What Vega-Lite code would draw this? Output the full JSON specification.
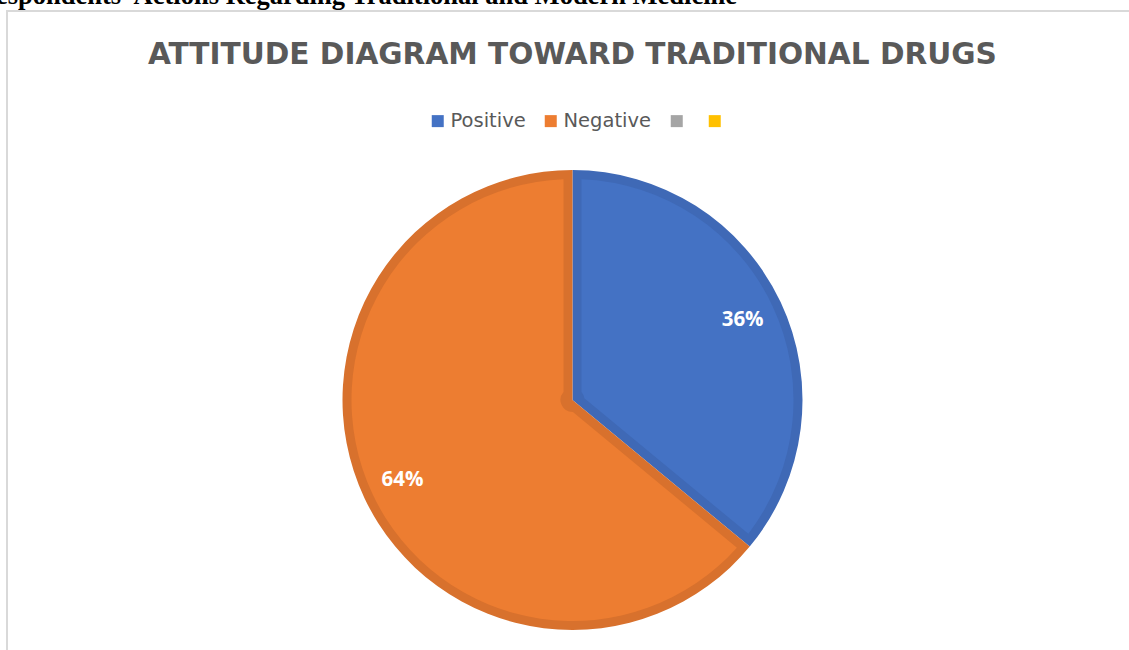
{
  "$schema": "https://vega.github.io/schema/vega-lite/v6.json",
  "autosize": {"type": "none"},
  "padding": {"left": 7, "top": 11, "right": 0, "bottom": 0},
  "width": 1124,
  "height": 641,
  "background": "white",
  "config": {
    "view": {"stroke": null},
    "font": "Open Sans"
  },
  "data": {
    "values": [
      {"category": "Positive", "value": 36, "ord": 1, "label": "36%"},
      {"category": "Negative", "value": 64, "ord": 2, "label": "64%"}
    ]
  },
  "layer": [
    {
      "data": {"values": [{"frame": "chart area"}]},
      "mark": {"type": "rect", "fill": null, "stroke": "#d9d9d9", "strokeWidth": 2},
      "encoding": {}
    },
    {
      "mark": {"type": "arc", "radius": 230, "xOffset": 3.5, "yOffset": 68.5},
      "encoding": {
        "theta": {"field": "value", "type": "quantitative", "stack": true},
        "order": {"field": "ord", "type": "quantitative"},
        "color": {
          "field": "category",
          "type": "nominal",
          "scale": {"domain": ["Positive", "Negative", "C3", "C4"], "range": ["#3F69B6", "#D8712D", "#979797", "#E8AF00"]},
          "legend": null
        }
      }
    },
    {
      "mark": {"type": "arc", "radius": 221, "radius2": 12, "padAngle": 0.0813, "xOffset": 3.5, "yOffset": 68.5},
      "encoding": {
        "theta": {"field": "value", "type": "quantitative", "stack": true},
        "order": {"field": "ord", "type": "quantitative"},
        "color": {
          "field": "category",
          "type": "nominal",
          "scale": {"domain": ["Positive", "Negative", "C3", "C4"], "range": ["#4472C4", "#ED7D31", "#A5A5A5", "#FFC000"]},
          "legend": {
            "title": null,
            "orient": "none",
            "direction": "horizontal",
            "legendX": 421,
            "legendY": 100,
            "symbolType": "square",
            "symbolSize": 144,
            "symbolStrokeWidth": 0,
            "labelFont": "DejaVu Sans",
            "labelFontSize": 19.5,
            "labelColor": "#595959",
            "labelOffset": 3,
            "columnPadding": 15,
            "labelExpr": "datum.label == 'C3' || datum.label == 'C4' ? '' : datum.label"
          }
        }
      }
    },
    {
      "mark": {"type": "text", "radius": 188, "xOffset": 3.5, "yOffset": 68.5, "font": "Open Sans", "fontSize": 20.5, "fontWeight": "bold", "color": "white"},
      "encoding": {
        "theta": {"field": "value", "type": "quantitative", "stack": true},
        "order": {"field": "ord", "type": "quantitative"},
        "text": {"field": "label", "type": "nominal"}
      }
    },
    {
      "data": {"values": [{"t": "ATTITUDE DIAGRAM TOWARD TRADITIONAL DRUGS"}]},
      "mark": {"type": "text", "align": "center", "baseline": "alphabetic", "dx": 3.4, "dy": -267.5, "font": "DejaVu Sans", "fontSize": 29.6, "fontWeight": "bold", "color": "#595959"},
      "encoding": {"text": {"field": "t", "type": "nominal"}}
    },
    {
      "data": {"values": [{"t": "Respondents' Actions Regarding Traditional and Modern Medicine"}]},
      "mark": {"type": "text", "align": "right", "baseline": "alphabetic", "dx": 168, "dy": -327.5, "font": "Liberation Serif", "fontSize": 26.5, "fontWeight": "bold", "color": "black"},
      "encoding": {"text": {"field": "t", "type": "nominal"}}
    }
  ],
  "resolve": {"scale": {"color": "independent"}, "legend": {"color": "independent"}}
}
